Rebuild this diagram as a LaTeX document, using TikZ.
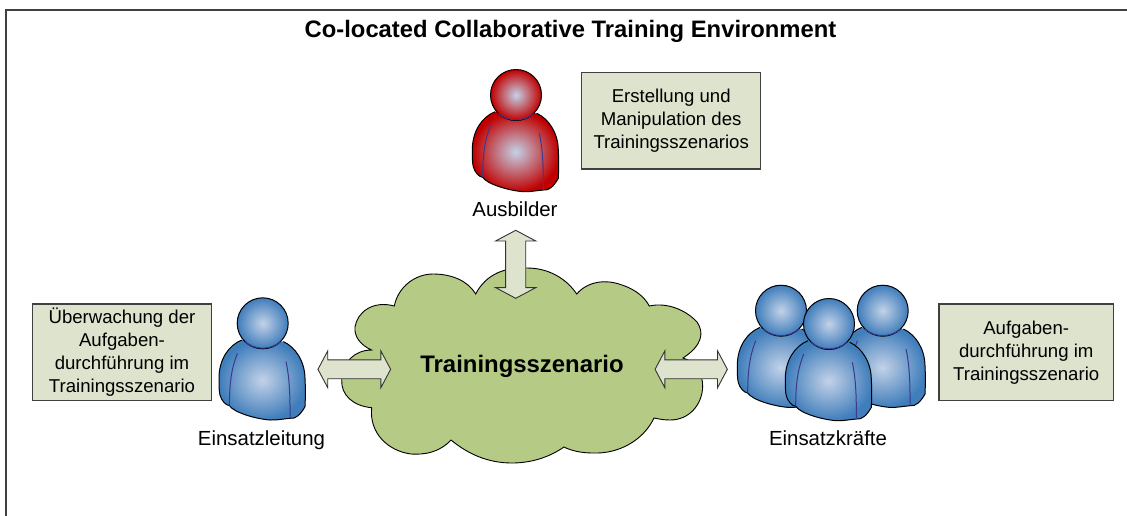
\documentclass[tikz,border=0pt]{standalone}
\usepackage{fontspec}
\setmainfont{Liberation Sans}
\usetikzlibrary{shapes.arrows}
\definecolor{boxfill}{HTML}{DDE3CD}
\definecolor{cloudfill}{HTML}{B5CB85}
\definecolor{bluedge}{HTML}{3F7DBB}
\definecolor{bluemid}{HTML}{C3D2E8}
\definecolor{rededge}{HTML}{C00000}
\definecolor{seam}{HTML}{3A3A8C}
\tikzset{
  notebox/.style={draw=black!75,fill=boxfill,line width=1.3pt,align=center,font=\fontsize{18.6}{23}\selectfont,inner sep=0pt},
  role/.style={font=\fontsize{20.4}{24}\selectfont,inner sep=0pt,anchor=base},
  dblarrow/.style={double arrow,draw=black!80,fill=boxfill,line width=0.9pt,inner xsep=0pt,inner ysep=9pt,double arrow head extend=9pt,double arrow tip angle=124},
  personshape/.pic={
    \path[shading=radial,inner color=bluemid,outer color=#1]
      (-21,16.7) .. controls (-34,22) and (-43.7,36) .. (-43.7,55)
      .. controls (-43.7,62) and (-43.7,68) .. (-42.7,71.7)
      .. controls (-41.5,77) and (-37,82) .. (-33.3,82.3)
      .. controls (-29,89) and (-8,95.5) .. (7.3,96.7)
      .. controls (14,97) and (21,95.5) .. (27.3,95)
      .. controls (33,96) and (38,91) .. (42.3,83.3)
      .. controls (42.8,73) and (42.8,65) .. (42.3,55)
      .. controls (42,38) and (33,24) .. (20.7,18.3) -- cycle;
    \draw[black,line width=1pt,line join=round]
      (-21,16.7) .. controls (-34,22) and (-43.7,36) .. (-43.7,55)
      .. controls (-43.7,62) and (-43.7,68) .. (-42.7,71.7)
      .. controls (-41.5,77) and (-37,82) .. (-33.3,82.3)
      .. controls (-29,89) and (-8,95.5) .. (7.3,96.7)
      .. controls (14,97) and (21,95.5) .. (27.3,95)
      .. controls (33,96) and (38,91) .. (42.3,83.3)
      .. controls (42.8,73) and (42.8,65) .. (42.3,55)
      .. controls (42,38) and (33,24) .. (20.7,18.3);
    \draw[seam,line width=1pt] (-25.3,30) .. controls (-30,42) and (-33.3,55) .. (-33.3,82);
    \draw[seam,line width=1pt] (23.3,38.3) .. controls (27,55) and (27.5,75) .. (27.3,95);
    \shade[inner color=bluemid,outer color=#1] (0,0) circle[radius=25.5];
    \draw[black,line width=1pt] (0,0) circle[radius=25.5];
    \draw[seam,line width=1pt] (-17.5,18.5) .. controls (-8,27) and (8,27) .. (17.5,18.5);
  }
}
\begin{document}
\begin{tikzpicture}[x=1pt,y=-1pt]
\useasboundingbox (0,0) rectangle (1127,515);
\draw[black!75,line width=1.6pt] (5.7,520) -- (5.7,10) -- (1130,10);
\node[font=\bfseries\fontsize{23.8}{28}\selectfont,inner sep=0pt] (title) at (570.5,31) {Co-located Collaborative Training Environment};

\draw[black,line width=0.9pt,fill=cloudfill,line join=miter]
  (475.7,294) .. controls (486,274) and (505,267) .. (527,268)
  .. controls (548,268) and (566,278) .. (576.7,294)
  .. controls (588,281) and (606,279) .. (622,285)
  .. controls (637,290) and (645,298) .. (649.3,306)
  .. controls (667,302) and (686,310) .. (697,322)
  .. controls (704,332) and (703,345) .. (683,358)
  .. controls (693,361) and (703,372) .. (702.7,386.7)
  .. controls (702,405) and (689,420) .. (670,420)
  .. controls (664,420) and (659,419) .. (654,418)
  .. controls (643,441) and (618,454) .. (593,453)
  .. controls (582,453) and (572,451) .. (564,447)
  .. controls (548,458) and (530,463) .. (511.7,463)
  .. controls (488,463) and (468,454) .. (451,440)
  .. controls (440,452) and (425,455) .. (411,454)
  .. controls (388,451) and (369,433) .. (371.7,407.7)
  .. controls (353,406) and (341,395) .. (341.7,380)
  .. controls (342,362) and (355,350) .. (371.7,350)
  .. controls (360,345) and (354,336) .. (355,327)
  .. controls (357,313) and (372,300) .. (394.3,306)
  .. controls (398,287) and (415,274) .. (433,274)
  .. controls (452,274) and (468,281) .. (475.7,294) -- cycle;
\node[font=\bfseries\fontsize{23.9}{28}\selectfont,inner sep=0pt] (scen) at (522,366) {Trainingsszenario};

\node[notebox,minimum width=179pt,minimum height=96.5pt] (n1) at (671.2,120.8) {\raisebox{-1pt}{\parbox{170pt}{\centering Erstellung und\\Manipulation des\\Trainingsszenarios}}};
\node[notebox,minimum width=179.4pt,minimum height=96.7pt] (n2) at (122,352.3) {Überwachung der\\Aufgaben-\\durchführung im\\Trainingsszenario};
\node[notebox,minimum width=174.3pt,minimum height=96.7pt] (n3) at (1026.2,352.3) {\raisebox{-1pt}{\parbox{170pt}{\centering Aufgaben-\\durchführung im\\Trainingsszenario}}};

\pic at (516,95) {personshape=rededge};
\pic at (262.7,323.3) {personshape=bluedge};
\pic at (781,310.7) {personshape=bluedge};
\pic at (882.7,310.7) {personshape=bluedge};
\pic at (829,324) {personshape=bluedge};

\node[role] (ausb) at (515,216.7) {Ausbilder};
\node[role] (leit) at (261.5,445) {Einsatzleitung};
\node[role] (kraft) at (828,445) {Einsatzkräfte};

\node[dblarrow,minimum height=72.7pt] (a1) at (354.3,369.3) {};
\node[dblarrow,minimum height=72.3pt] (a2) at (691.2,369.3) {};
\node[dblarrow,rotate=90,minimum height=68pt,inner ysep=9.6pt,double arrow head extend=10pt] (a3) at (515.7,264.3) {};
\end{tikzpicture}
\end{document}
